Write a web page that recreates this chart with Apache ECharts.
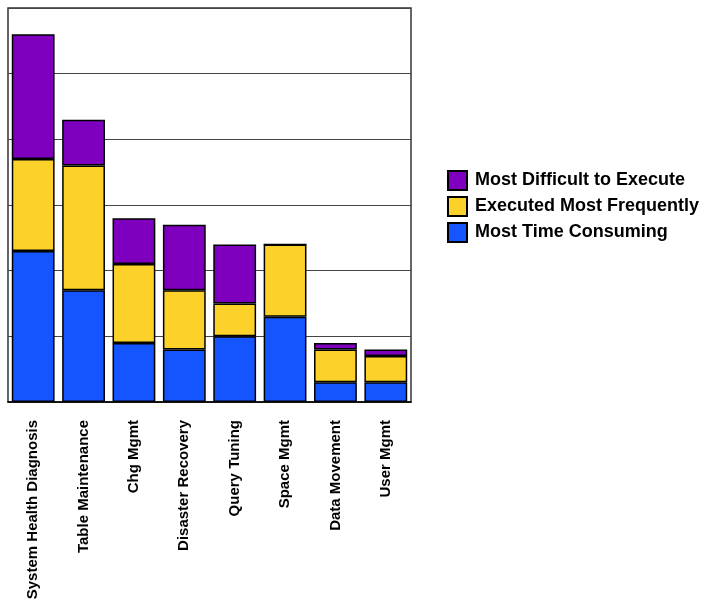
<!DOCTYPE html>
<html>
<head>
<meta charset="utf-8">
<script src="https://cdn.jsdelivr.net/npm/echarts@6/dist/echarts.min.js"></script>
<style>
  html, body { margin: 0; padding: 0; background: #fff; }
  #chart { width: 711px; height: 603px; }
</style>
</head>
<body>
<div id="chart"></div>
<script>
// categories along the x axis
var categories = [
  "System Health Diagnosis", "Table Maintenance", "Chg Mgmt", "Disaster Recovery",
  "Query Tuning", "Space Mgmt", "Data Movement", "User Mgmt"
];
// stacked values, bottom to top
var timeConsuming = [23, 17, 9, 8, 10, 13, 3, 3];
var mostFrequent = [14, 19, 12, 9, 5, 11, 5, 4];
var mostDifficult = [19, 7, 7, 10, 9, 0, 1, 1];

var myChart = echarts.init(document.getElementById("chart"));

var barBorder = { borderColor: "#000", borderWidth: 1.5 };

myChart.setOption({
  animation: false,
  textStyle: { fontFamily: "Liberation Sans, Arial, sans-serif" },
  grid: {
    left: 8,
    right: 300,
    top: 8,
    bottom: 201,
    show: true,
    borderColor: "#333",
    borderWidth: 1.5,
    backgroundColor: "#fff"
  },
  legend: {
    orient: "vertical",
    left: 442,
    top: 165,
    itemWidth: 19,
    itemHeight: 19,
    itemGap: 5,
    icon: "rect",
    data: ["Most Difficult to Execute", "Executed Most Frequently", "Most Time Consuming"],
    textStyle: { fontSize: 18, lineHeight: 19, fontWeight: "bold", color: "#000", padding: [0, 0, 0, 3] }
  },
  xAxis: {
    type: "category",
    data: categories,
    axisLine: { lineStyle: { color: "#000", width: 1.5 } },
    axisTick: { show: false },
    axisLabel: {
      rotate: 90,
      margin: 18,
      interval: 0,
      fontSize: 15,
      fontWeight: "bold",
      color: "#000"
    }
  },
  yAxis: {
    type: "value",
    min: 0,
    max: 60,
    interval: 10,
    axisLabel: { show: false },
    axisLine: { show: false },
    axisTick: { show: false },
    splitLine: { lineStyle: { color: "#444", width: 1 } }
  },
  series: [
    {
      name: "Most Time Consuming",
      type: "bar",
      stack: "total",
      barCategoryGap: "15%",
      data: timeConsuming,
      itemStyle: Object.assign({ color: "#1455FF" }, barBorder)
    },
    {
      name: "Executed Most Frequently",
      type: "bar",
      stack: "total",
      data: mostFrequent,
      itemStyle: Object.assign({ color: "#FBD12A" }, barBorder)
    },
    {
      name: "Most Difficult to Execute",
      type: "bar",
      stack: "total",
      data: mostDifficult,
      itemStyle: Object.assign({ color: "#7E00BE" }, barBorder)
    }
  ]
});
</script>
</body>
</html>
